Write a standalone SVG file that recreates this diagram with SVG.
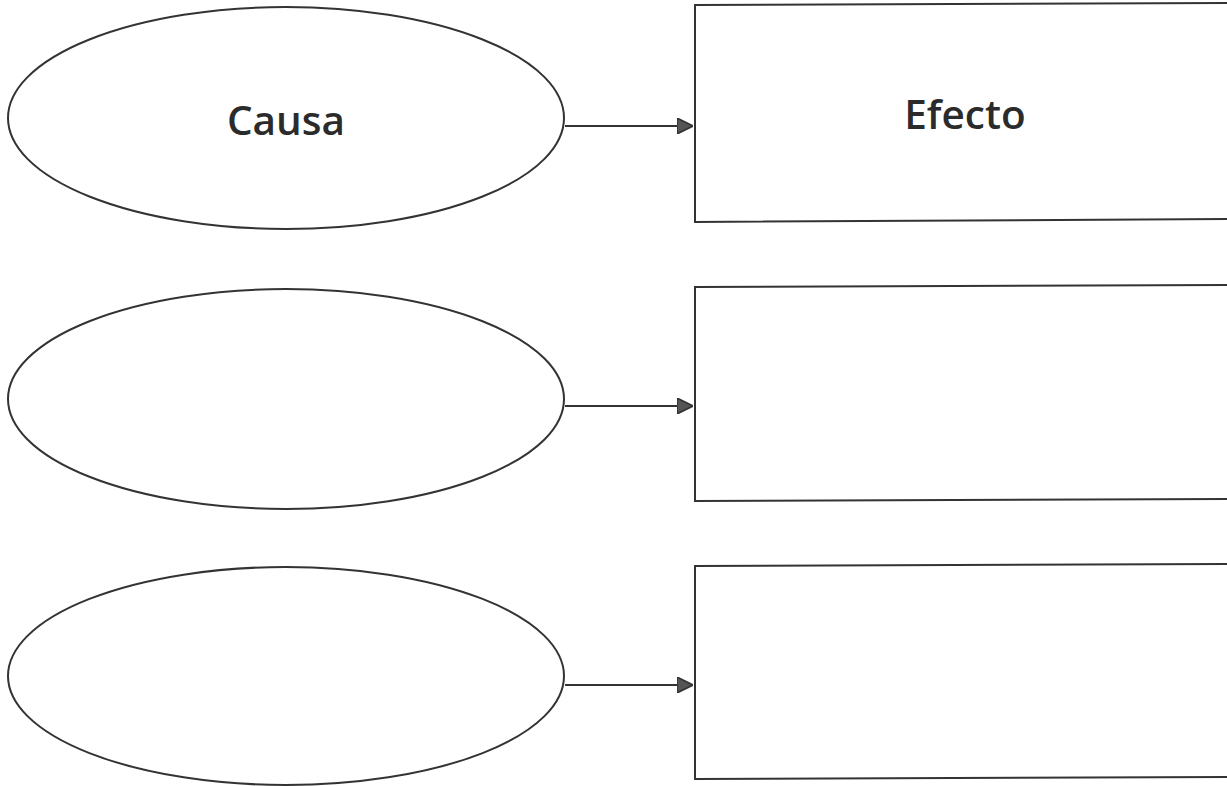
<svg xmlns="http://www.w3.org/2000/svg" width="1227" height="786" viewBox="0 0 1227 786">
<defs>
<style>
.shape{fill:#fff;stroke:#333;stroke-width:2}
.conn{stroke:#333;stroke-width:2;fill:none}
.lbl{font-family:"Open Sans","Noto Sans",sans-serif;font-weight:600;font-size:40.5px;fill:#2b2b2b}
</style>
<marker id="ah" viewBox="0 0 10 10" refX="10" refY="5" markerWidth="16" markerHeight="16" markerUnits="userSpaceOnUse" orient="auto">
<path d="M0,0 L10,5 L0,10 z" fill="#555" stroke="#333" stroke-width="1"/>
</marker>
</defs>
<rect width="1227" height="786" fill="#fff"/>
<g id="cause1"><ellipse class="shape" cx="286" cy="118" rx="278" ry="111"/><text class="lbl" x="286" y="135" text-anchor="middle">Causa</text></g>
<g id="cause2"><ellipse class="shape" cx="286" cy="399" rx="278" ry="110"/></g>
<g id="cause3"><ellipse class="shape" cx="286" cy="676" rx="278" ry="109"/></g>
<g id="effect1"><path class="shape" d="M1229,3 L695,5 L695,222 L1229,219"/><text class="lbl" x="965" y="129" text-anchor="middle">Efecto</text></g>
<g id="effect2"><path class="shape" d="M1229,285 L695,287 L695,501 L1229,499"/></g>
<g id="effect3"><path class="shape" d="M1229,564 L695,566 L695,779 L1229,777"/></g>
<g id="connectors">
<line class="conn" x1="565" y1="126" x2="693" y2="126" marker-end="url(#ah)"/>
<line class="conn" x1="565" y1="406" x2="693" y2="406" marker-end="url(#ah)"/>
<line class="conn" x1="565" y1="685" x2="693" y2="685" marker-end="url(#ah)"/>
</g>
</svg>
